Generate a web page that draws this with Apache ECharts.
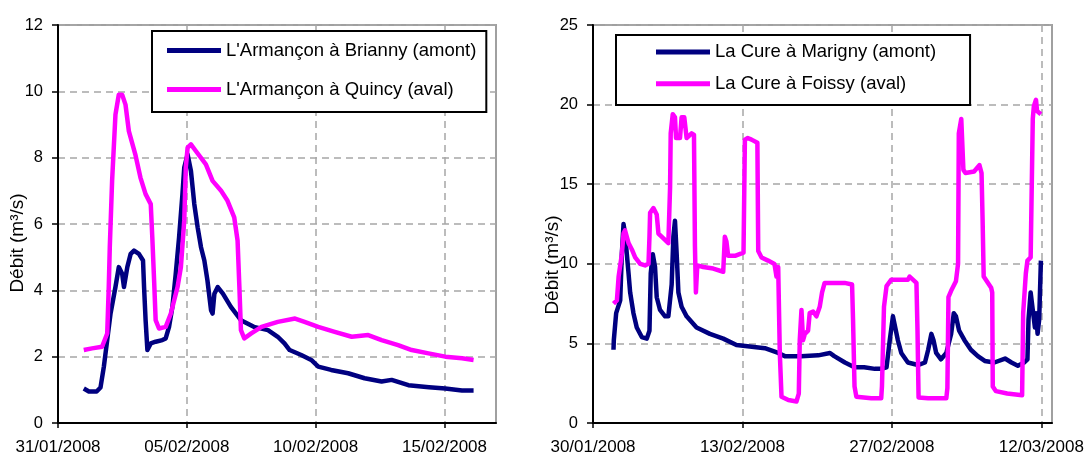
<!DOCTYPE html>
<html>
<head>
<meta charset="utf-8">
<script src="https://cdn.jsdelivr.net/npm/echarts@6/dist/echarts.min.js"></script>
<style>
html,body{margin:0;padding:0;background:#fff;}
#chart{width:1088px;height:459px;}
</style>
</head>
<body>
<div id="chart"></div>
<script>
// ---- Left chart: days since 31/01/2008 ----
const leftTickDays = [0, 5, 10, 15];
const leftTickLabels = ['31/01/2008', '05/02/2008', '10/02/2008', '15/02/2008'];
const briannyName = "L'Armançon à Brianny (amont)";
const quincyName = "L'Armançon à Quincy (aval)";
const briannyDays = [1.0,1.2,1.5,1.65,1.78,1.91,2.04,2.23,2.36,2.49,2.56,2.69,2.82,2.95,3.14,3.3,3.34,3.4,3.47,3.6,3.79,4.05,4.18,4.31,4.44,4.57,4.7,4.83,4.9,5.03,5.16,5.29,5.42,5.55,5.68,5.8,5.94,6.0,6.07,6.2,6.4,6.71,7.1,7.6,8.15,8.53,8.79,8.99,9.44,9.83,10.1,10.6,11.26,11.9,12.56,12.95,13.6,14.4,15.03,15.68,16.13];
const briannyFlow = [1.04,0.95,0.95,1.07,1.7,2.5,3.3,4.1,4.7,4.5,4.1,4.7,5.1,5.2,5.1,4.9,4.1,3.1,2.2,2.4,2.45,2.5,2.55,2.9,3.5,4.5,5.6,6.9,7.7,8.1,7.6,6.6,5.9,5.3,4.9,4.3,3.4,3.3,3.9,4.1,3.9,3.5,3.1,2.9,2.8,2.6,2.4,2.2,2.05,1.9,1.7,1.6,1.5,1.35,1.25,1.3,1.14,1.08,1.04,0.98,0.98];
const quincyDays = [1.0,1.32,1.71,1.91,1.97,2.01,2.1,2.23,2.36,2.49,2.62,2.75,3.0,3.2,3.4,3.6,3.66,3.73,3.79,3.92,4.18,4.38,4.64,4.77,4.9,4.96,5.03,5.16,5.35,5.74,6.0,6.33,6.58,6.84,6.97,7.04,7.1,7.23,7.5,7.9,8.53,9.2,9.57,10.1,10.74,11.4,12.04,12.56,13.2,13.73,14.38,15.03,15.68,16.13];
const quincyFlow = [2.2,2.25,2.3,2.7,4.1,5.3,7.3,9.3,9.9,9.9,9.6,8.8,8.1,7.4,6.9,6.6,5.6,4.3,3.1,2.85,2.9,3.3,4.1,4.7,6.1,7.7,8.3,8.4,8.2,7.8,7.3,7.0,6.7,6.2,5.5,4.1,2.8,2.55,2.7,2.9,3.05,3.15,3.05,2.9,2.75,2.6,2.65,2.5,2.35,2.2,2.1,2.0,1.95,1.9];

// ---- Right chart: days since 30/01/2008 ----
const rightTickDays = [0, 14, 28, 42];
const rightTickLabels = ['30/01/2008', '13/02/2008', '27/02/2008', '12/03/2008'];
const marignyName = 'La Cure à Marigny (amont)';
const foissyName = 'La Cure à Foissy (aval)';
const marignyDays = [1.92,1.95,2.17,2.55,2.7,2.86,3.0,3.17,3.33,3.48,3.79,4.1,4.57,5.04,5.29,5.41,5.6,5.81,5.97,6.28,6.75,7.06,7.37,7.53,7.68,7.84,8.0,8.3,8.77,9.7,10.95,12.2,13.44,14.68,16.1,17.35,17.97,19.5,21.1,22.2,22.6,23.6,24.5,25.4,26.4,27.0,27.5,27.8,28.1,28.56,28.88,29.5,30.44,31.1,31.4,31.7,31.9,32.15,32.6,33.1,33.55,33.8,34.0,34.3,34.8,35.4,36.05,36.7,37.6,38.6,39.2,39.8,40.4,40.7,40.8,41.0,41.2,41.4,41.5,41.65,41.8,41.96];
const marignyFlow = [4.6,5.2,6.9,7.7,10.6,12.5,11.9,10.6,9.4,8.2,6.9,6.0,5.4,5.3,5.8,9.4,10.6,9.8,7.9,7.1,6.7,6.7,8.7,11.7,12.7,10.6,8.2,7.3,6.7,6.0,5.6,5.3,4.9,4.8,4.7,4.4,4.2,4.2,4.25,4.4,4.2,3.8,3.5,3.5,3.4,3.4,3.5,5.2,6.7,5.2,4.4,3.8,3.64,3.8,4.6,5.6,5.2,4.4,4.0,4.4,5.6,6.9,6.7,5.8,5.2,4.6,4.2,3.9,3.8,4.05,3.8,3.6,3.8,4.0,6.5,8.2,7.1,6.0,6.9,5.6,6.5,10.2];
const foissyDays = [1.92,2.24,2.4,2.7,2.86,3.0,3.33,3.64,3.95,4.42,4.88,5.2,5.29,5.35,5.66,5.82,5.97,6.13,6.6,7.06,7.22,7.28,7.47,7.68,7.78,8.15,8.3,8.55,8.77,9.24,9.46,9.55,9.64,9.77,10.33,11.26,12.2,12.35,12.5,12.66,13.3,14.1,14.23,14.5,14.85,15.4,15.48,15.79,16.4,17.0,17.19,17.35,17.5,17.66,18.3,19.06,19.28,19.37,19.53,19.68,19.85,20.15,20.3,20.62,20.93,21.24,21.46,21.7,22.33,23.57,24.27,24.36,24.5,24.67,26.07,27.0,27.07,27.26,27.5,27.93,28.7,29.5,29.66,30.3,30.4,30.5,31.4,33.1,33.2,33.3,33.55,34.0,34.2,34.27,34.5,34.6,34.7,34.9,35.7,36.2,36.4,36.5,36.6,37.3,37.4,37.45,37.75,38.8,40.2,40.3,40.55,40.7,41.0,41.2,41.3,41.5,41.6,41.96];
const foissyFlow = [7.5,7.7,9.2,10.6,11.9,12.1,11.3,10.9,10.4,10.0,9.9,10.0,11.7,13.2,13.5,13.6,13.1,11.9,11.6,11.3,14.8,18.2,19.4,19.2,17.9,17.9,19.2,19.2,17.9,18.2,18.1,11.1,8.2,9.9,9.8,9.7,9.5,11.7,11.4,10.5,10.5,10.7,17.8,17.9,17.8,17.6,10.8,10.4,10.2,9.99,9.2,9.8,4.4,1.65,1.44,1.35,1.85,5.2,7.1,5.2,5.6,5.8,6.9,7.0,6.7,7.3,8.2,8.8,8.8,8.8,8.7,6.5,2.3,1.65,1.55,1.55,2.3,7.3,8.6,9.0,9.0,9.0,9.2,8.8,5.8,1.6,1.55,1.55,2.2,7.9,8.3,8.9,10.0,18.2,19.1,19.1,15.9,15.7,15.8,16.2,15.7,12.7,9.2,8.5,8.2,2.3,2.0,1.85,1.75,6.9,9.4,10.2,10.4,19.1,19.9,20.3,19.6,19.4];

const yName = 'Débit (m³/s)';
const NAVY = '#000080', MAGENTA = '#FF00FF';
const FONT = "'Liberation Sans', Arial, sans-serif";

function zip(xs, ys) { return xs.map((x, i) => [x, ys[i]]); }

function xAxis(gridIndex, max, interval, tickDays, tickLabels) {
  return {
    type: 'value', gridIndex, min: 0, max, interval,
    axisLine: { show: true, onZero: false, lineStyle: { color: '#000', width: 2 } },
    axisTick: { show: true, length: 5, customValues: tickDays, lineStyle: { color: '#000', width: 1.5 } },
    axisLabel: {
      customValues: tickDays, margin: 16, color: '#000', fontFamily: FONT, fontSize: 17,
      formatter: v => { const i = tickDays.indexOf(v); return i >= 0 ? tickLabels[i] : ''; }
    },
    splitLine: { show: true, lineStyle: { color: '#a6a6a6', width: 1.5, type: [7, 5] } }
  };
}
function yAxis(gridIndex, max, interval) {
  return {
    type: 'value', gridIndex, min: 0, max, interval,
    axisLine: { show: true, lineStyle: { color: '#000', width: 2 } },
    axisTick: { show: true, length: 6, lineStyle: { color: '#000', width: 1.5 } },
    axisLabel: { margin: 15, color: '#000', fontFamily: FONT, fontSize: 16.5 },
    splitLine: { show: true, lineStyle: { color: '#a6a6a6', width: 1.5, type: [7, 5] } }
  };
}
function legend(left, top, names, gap, padding) {
  return {
    orient: 'vertical', left, top, data: names, selectedMode: false,
    icon: 'rect', itemWidth: 54, itemHeight: 5, itemGap: gap, padding,
    borderColor: '#000', borderWidth: 2, backgroundColor: '#fff',
    textStyle: { fontFamily: FONT, fontSize: 18.5, lineHeight: 18, color: '#000' }
  };
}
function series(name, xi, days, flow, color) {
  return {
    type: 'line', name, xAxisIndex: xi, yAxisIndex: xi, data: zip(days, flow),
    symbol: 'none', showSymbol: false, animation: false,
    lineStyle: { width: 4.5, color, join: 'round' }, itemStyle: { color }
  };
}

const chart = echarts.init(document.getElementById('chart'), null, { renderer: 'canvas' });
chart.setOption({
  animation: false,
  backgroundColor: '#fff',
  grid: [
    { left: 58, top: 25, width: 438, height: 398, show: true, borderColor: '#a0a0a0', borderWidth: 2, backgroundColor: 'transparent' },
    { left: 593, top: 25, width: 459, height: 398, show: true, borderColor: '#a0a0a0', borderWidth: 2, backgroundColor: 'transparent' }
  ],
  xAxis: [
    xAxis(0, 17, 5, leftTickDays, leftTickLabels),
    xAxis(1, 43, 14, rightTickDays, rightTickLabels)
  ],
  yAxis: [yAxis(0, 12, 2), yAxis(1, 25, 5)],
  legend: [
    legend(152, 31, [briannyName, quincyName], 20, [10, 10, 13, 15]),
    legend(616, 35, [marignyName, foissyName], 12.6, [7.6, 34, 11.8, 40])
  ],
  graphic: [
    { type: 'text', x: 18, y: 243, rotation: Math.PI / 2,
      style: { text: yName, fontFamily: FONT, fontSize: 19, fill: '#000', textAlign: 'center', textVerticalAlign: 'middle' } },
    { type: 'text', x: 553, y: 265, rotation: Math.PI / 2,
      style: { text: yName, fontFamily: FONT, fontSize: 19, fill: '#000', textAlign: 'center', textVerticalAlign: 'middle' } }
  ],
  series: [
    series(briannyName, 0, briannyDays, briannyFlow, NAVY),
    series(quincyName, 0, quincyDays, quincyFlow, MAGENTA),
    series(marignyName, 1, marignyDays, marignyFlow, NAVY),
    series(foissyName, 1, foissyDays, foissyFlow, MAGENTA)
  ]
});
</script>
</body>
</html>
